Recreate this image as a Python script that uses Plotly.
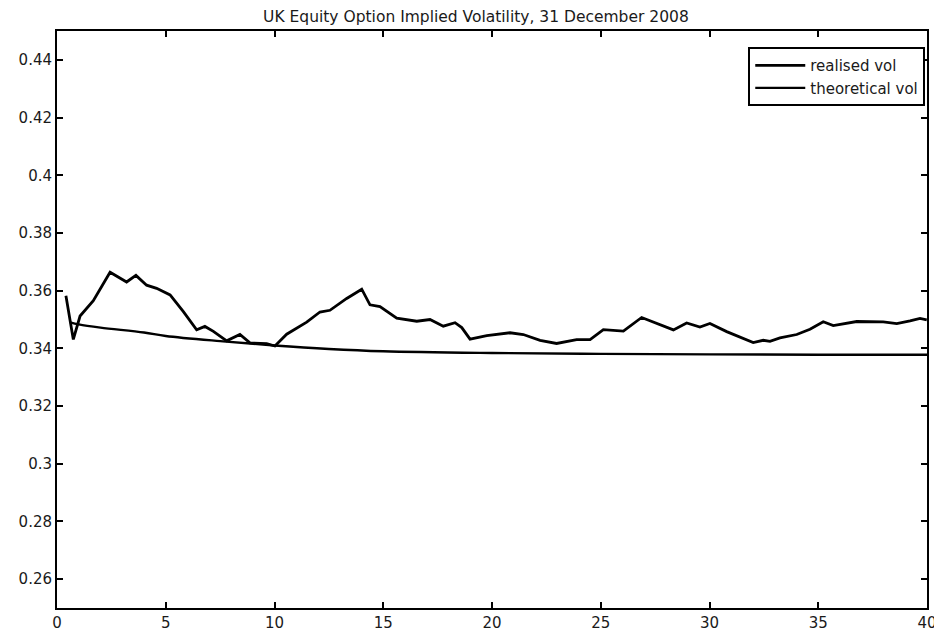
import plotly.graph_objects as go

# Data
realised_x = [0.41, 0.75, 1.06, 1.21, 1.67, 2.44, 3.2, 3.63, 4.12, 4.58, 5.2, 5.81, 6.42, 6.8, 7.19,
              7.8, 8.41, 8.87, 9.64, 10.02, 10.56, 11.48, 12.09, 12.55, 13.32, 14.01, 14.39, 14.85,
              15.62, 16.54, 17.15, 17.76, 18.3, 18.61, 18.99, 19.76, 20.83, 21.44, 22.21, 22.97,
              23.89, 24.51, 25.12, 26.04, 26.88, 28.34, 28.95, 29.56, 30.02, 30.79, 31.55, 32.01,
              32.47, 32.78, 33.24, 34.01, 34.62, 35.23, 35.69, 36.77, 37.99, 38.61, 39.22, 39.68, 39.99]
realised_vol = [0.3582, 0.3431, 0.3512, 0.3526, 0.3565, 0.3664, 0.3630, 0.3653, 0.3619, 0.3608,
                0.3585, 0.3527, 0.3464, 0.3476, 0.3459, 0.3426, 0.3448, 0.3419, 0.3416, 0.3408,
                0.3449, 0.3491, 0.3526, 0.3532, 0.3573, 0.3605, 0.3551, 0.3545, 0.3505, 0.3494,
                0.3500, 0.3477, 0.3489, 0.3472, 0.3432, 0.3444, 0.3454, 0.3448, 0.3428, 0.3417,
                0.3430, 0.3430, 0.3465, 0.3460, 0.3507, 0.3464, 0.3488, 0.3474, 0.3486, 0.3458,
                0.3435, 0.3420, 0.3428, 0.3424, 0.3436, 0.3448, 0.3466, 0.3492, 0.3479, 0.3493,
                0.3492, 0.3486, 0.3495, 0.3504, 0.3499]

theo_x = [0.6, 1.0, 2.0, 4.0, 5.0, 7.5, 10.0, 12.5, 15.0, 20.0, 25.0, 30.0, 35.0, 40.0]
theo_vol = [0.3490, 0.3483, 0.3472, 0.3455, 0.3443, 0.3425, 0.3410, 0.3398, 0.3390, 0.3384,
            0.3381, 0.3379, 0.3378, 0.3378]

x_ticks = [0, 5, 10, 15, 20, 25, 30, 35, 40]
y_ticks = [0.26, 0.28, 0.3, 0.32, 0.34, 0.36, 0.38, 0.4, 0.42, 0.44]
y_tick_labels = ["0.26", "0.28", "0.3", "0.32", "0.34", "0.36", "0.38", "0.4", "0.42", "0.44"]

title_text = "UK Equity Option Implied Volatility, 31 December 2008"

FONT = "DejaVu Sans, Verdana, sans-serif"

fig = go.Figure()
fig.add_trace(go.Scatter(x=realised_x, y=realised_vol, mode="lines", name="realised vol",
                         line=dict(color="black", width=2.8)))
fig.add_trace(go.Scatter(x=theo_x, y=theo_vol, mode="lines", name="theoretical vol",
                         line=dict(color="black", width=2.4, shape="spline")))

axis_common = dict(showline=True, linecolor="black", linewidth=2, mirror="ticks",
                   ticks="inside", ticklen=6, tickwidth=1.5, tickcolor="black",
                   showgrid=False, zeroline=False, automargin=False,
                   tickfont=dict(family=FONT, size=15, color="#1a1a1a"))

# The page body adds an 8 px offset, so the figure is 8 px smaller and margins shifted
fig.update_layout(
    template="none",
    width=934, height=631,
    paper_bgcolor="white", plot_bgcolor="white",
    margin=dict(l=49, r=15, t=23, b=31, pad=0),
    title=dict(text=title_text, x=0.501, xref="container", xanchor="center",
               y=0.986, yref="container", yanchor="middle",
               font=dict(family=FONT, size=15.5, color="#1a1a1a")),
    xaxis=dict(range=[0, 40], tickvals=x_ticks, **axis_common),
    yaxis=dict(range=[0.25, 0.45], tickvals=y_ticks, ticktext=y_tick_labels, **axis_common),
    legend=dict(x=0.998, xanchor="right", y=0.972, yanchor="top",
                bordercolor="black", borderwidth=2, bgcolor="white",
                font=dict(family=FONT, size=15, color="#1a1a1a"),
                itemwidth=50, tracegroupgap=0),
    showlegend=True,
)

fig.write_html("out.html")
